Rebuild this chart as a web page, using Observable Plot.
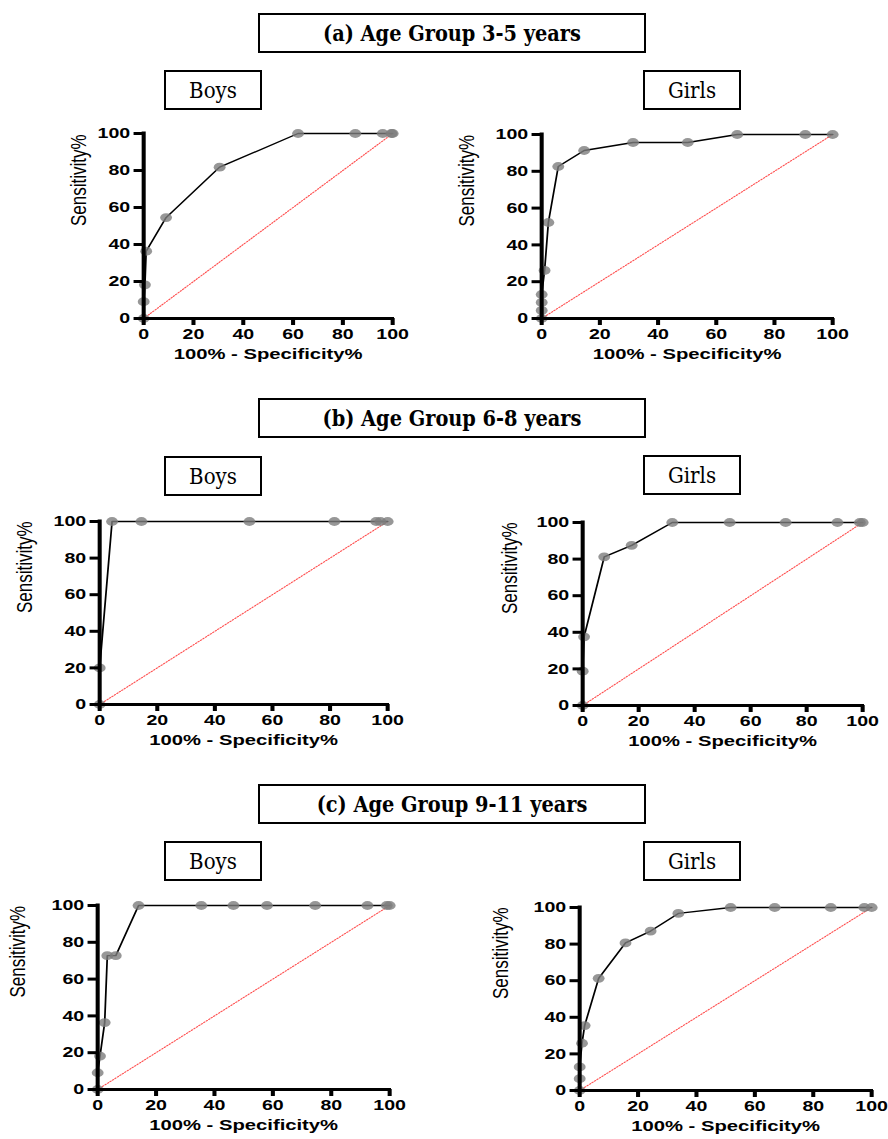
<!DOCTYPE html>
<html>
<head>
<meta charset="utf-8">
<script src="https://cdn.jsdelivr.net/npm/d3@7"></script>
<script src="https://cdn.jsdelivr.net/npm/@observablehq/plot@0.6"></script>
<style>
  html, body { margin: 0; padding: 0; background: #fff; overflow: hidden; }
  #page { position: relative; width: 888px; height: 1139px; background: #fff; overflow: hidden; }
  .box { position: absolute; box-sizing: border-box; border: 2px solid #000; background: #fff;
         display: flex; align-items: center; justify-content: center; color: #000; }
  .title { font-family: "DejaVu Serif", serif; font-stretch: condensed; font-weight: bold; font-size: 21.5px; }
  .sex { font-family: "DejaVu Serif", serif; font-stretch: condensed; font-size: 22px; }
  .panel { position: absolute; }
</style>
</head>
<body>
<div id="page"></div>
<script>
// ---------- data ----------
const axisTicks = [0, 20, 40, 60, 80, 100];
const chanceX = [0, 100];
const chanceY = [0, 100];

const titles = ["(a) Age Group 3-5 years", "(b) Age Group 6-8 years", "(c) Age Group 9-11 years"];
const sexes = ["Boys", "Girls"];
const xLabel = "100% - Specificity%";
const yLabel = "Sensitivity%";

// (a) 3-5 years
const boys35Fpr  = [0, 0, 0.5, 1, 9, 30.5, 62, 85, 96, 99.5, 100];
const boys35Sens = [0, 9.09, 18.18, 36.36, 54.55, 81.82, 100, 100, 100, 100, 100];
const girls35Fpr  = [0, 0, 0, 0, 1, 2.3, 5.7, 14.6, 31.4, 50.2, 67.2, 90.6, 100];
const girls35Sens = [0, 4.35, 8.7, 13.04, 26.09, 52.17, 82.61, 91.3, 95.65, 95.65, 100, 100, 100];

// (b) 6-8 years
const boys68Fpr  = [0, 0, 4.3, 14.5, 52, 81.5, 96, 97.5, 100];
const boys68Sens = [0, 20, 100, 100, 100, 100, 100, 100, 100];
const girls68Fpr  = [0, 0, 0.5, 7.7, 17.5, 32, 52.5, 72.5, 91, 99, 100];
const girls68Sens = [0, 18.75, 37.5, 81.25, 87.5, 100, 100, 100, 100, 100, 100];

// (c) 9-11 years
const boys911Fpr  = [0, 0, 0.8, 2.4, 3.3, 6.2, 14, 35.5, 46.5, 58, 74.5, 92.4, 99, 100];
const boys911Sens = [0, 9.09, 18.18, 36.36, 72.73, 72.73, 100, 100, 100, 100, 100, 100, 100, 100];
const girls911Fpr  = [0, 0, 0, 0.8, 1.7, 6.5, 15.7, 24.3, 33.8, 51.7, 66.8, 86, 97.5, 100];
const girls911Sens = [0, 6.45, 12.9, 25.81, 35.48, 61.29, 80.65, 87.1, 96.77, 100, 100, 100, 100, 100];

// ---------- layout (page pixels) ----------
const stretch = 1.35;   // the original panels are horizontally stretched
const titleBoxes = [{left: 258, top: 13}, {left: 258, top: 398}, {left: 258, top: 784}];
const sexBoxes = [
  [{left: 164, top: 70}, {left: 643, top: 70}],
  [{left: 164, top: 456}, {left: 643, top: 455}],
  [{left: 164, top: 841}, {left: 643, top: 841}]
];
const panels = [
  {x0: 143, x100: 392, y100: 133, y0: 318, labelOff: 65, fpr: boys35Fpr, sens: boys35Sens},
  {x0: 541, x100: 832, y100: 134, y0: 318, labelOff: 75, fpr: girls35Fpr, sens: girls35Sens},
  {x0: 99,  x100: 387, y100: 521, y0: 704, labelOff: 75, fpr: boys68Fpr, sens: boys68Sens},
  {x0: 582, x100: 862, y100: 522, y0: 705, labelOff: 73, fpr: girls68Fpr, sens: girls68Sens},
  {x0: 97,  x100: 389, y100: 905, y0: 1089, labelOff: 80, fpr: boys911Fpr, sens: boys911Sens},
  {x0: 579, x100: 871, y100: 907, y0: 1090, labelOff: 79, fpr: girls911Fpr, sens: girls911Sens}
];

const page = document.getElementById("page");

titles.forEach((t, i) => {
  const d = document.createElement("div");
  d.className = "box title";
  Object.assign(d.style, {left: titleBoxes[i].left + "px", top: titleBoxes[i].top + "px", width: "388px", height: "40px"});
  d.textContent = t;
  page.appendChild(d);
  sexes.forEach((s, j) => {
    const b = document.createElement("div");
    b.className = "box sex";
    Object.assign(b.style, {left: sexBoxes[i][j].left + "px", top: sexBoxes[i][j].top + "px", width: "98px", height: "40px"});
    b.textContent = s;
    page.appendChild(b);
  });
});

function makePanel(cfg) {
  const padL = 95;
  const mL = padL / stretch, mR = 20, mT = 12, mB = 52;
  const plotW = (cfg.x100 - cfg.x0) / stretch;
  const plotH = cfg.y0 - cfg.y100;
  const width = mL + plotW + mR, height = mT + plotH + mB;
  const pts = cfg.fpr.map((x, i) => ({x, y: cfg.sens[i]}));
  const chance = chanceX.map((x, i) => ({x, y: chanceY[i]}));
  const chart = Plot.plot({
    width, height,
    marginLeft: mL, marginRight: mR, marginTop: mT, marginBottom: mB,
    x: {domain: [0, 100], label: null},
    y: {domain: [0, 100], label: null},
    style: {background: "white", fontFamily: "'Liberation Sans', Arial, sans-serif", color: "black", overflow: "visible"},
    marks: [
      Plot.line(chance, {x: "x", y: "y", stroke: "#ff4d4d", strokeWidth: 1, strokeDasharray: "1,1.4"}),
      Plot.line(pts, {x: "x", y: "y", stroke: "black", strokeWidth: 1.3}),
      Plot.dot(pts, {x: "x", y: "y", r: 4.4, fill: "#7d7d7d", fillOpacity: 0.8, stroke: "none"}),
      Plot.axisX({ticks: axisTicks, tickSize: 7, tickPadding: 3, strokeWidth: 3, fontSize: 14.5, fontWeight: "bold", label: null, tickFormat: d => String(d)}),
      Plot.axisY({ticks: axisTicks, tickSize: 7, tickPadding: 3, strokeWidth: 3, fontSize: 14.5, fontWeight: "bold", label: null, tickFormat: d => String(d)}),
      Plot.ruleX([0], {stroke: "black", strokeWidth: 3, strokeLinecap: "square"}),
      Plot.ruleY([0], {stroke: "black", strokeWidth: 3, strokeLinecap: "square"}),
      Plot.text([xLabel], {frameAnchor: "bottom", dy: 41, fontSize: 15, fontWeight: "bold", letterSpacing: "0.6px", fill: "black"}),
      Plot.text([yLabel], {frameAnchor: "left", rotate: -90, dx: -cfg.labelOff / stretch, fontSize: 17, fill: "black"})
    ]
  });
  chart.style.maxWidth = "none";
  chart.style.transform = `scaleX(${stretch})`;
  chart.style.transformOrigin = "0 0";
  chart.style.display = "block";
  const wrap = document.createElement("div");
  wrap.className = "panel";
  wrap.style.left = (cfg.x0 - padL) + "px";
  wrap.style.top = (cfg.y100 - mT) + "px";
  wrap.style.width = width + "px";
  wrap.appendChild(chart);
  page.appendChild(wrap);
}

panels.forEach(makePanel);
</script>
</body>
</html>
